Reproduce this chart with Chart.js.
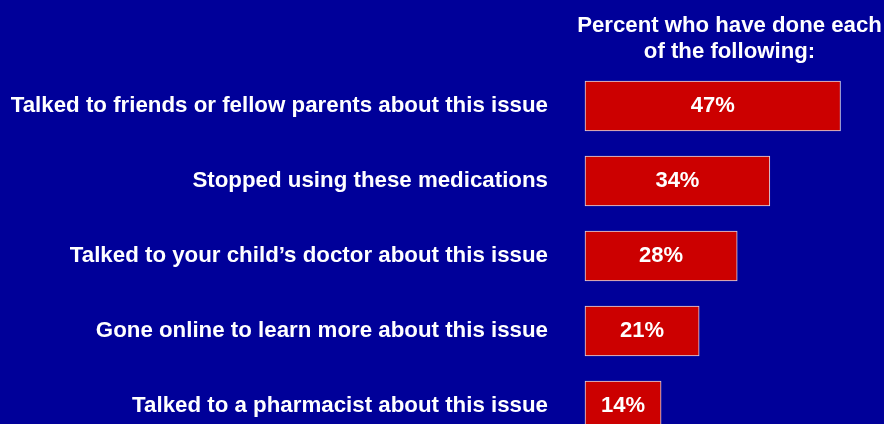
<!DOCTYPE html>
<html>
<head>
<meta charset="utf-8">
<script src="https://cdn.jsdelivr.net/npm/chart.js@4/dist/chart.umd.min.js"></script>
<style>
  html, body { margin: 0; padding: 0; background: #000099; overflow: hidden; }
  canvas { display: block; }
</style>
</head>
<body>
<canvas id="chart" width="884" height="424"></canvas>
<script>
// chart data
const categories = [
    "Talked to friends or fellow parents about this issue",
    "Stopped using these medications",
    "Talked to your child\u2019s doctor about this issue",
    "Gone online to learn more about this issue",
    "Talked to a pharmacist about this issue"
];
const percentDone = [47, 34, 28, 21, 14];
const headerLines = ["Percent who have done each", "of the following:"];

const FONT = "'Liberation Sans', Arial, sans-serif";

// header text above the bars
const headerPlugin = {
    id: "header",
    afterDraw(chart) {
        const ctx = chart.ctx;
        ctx.save();
        ctx.fillStyle = "#ffffff";
        ctx.font = "bold 22.2px " + FONT;
        ctx.textAlign = "center";
        ctx.textBaseline = "middle";
        headerLines.forEach((line, i) => ctx.fillText(line, 729.5, 26 + i * 26));
        ctx.restore();
    }
};

// value labels inside the bars
const valueLabels = {
    id: "valueLabels",
    afterDatasetsDraw(chart) {
        const ctx = chart.ctx;
        const meta = chart.getDatasetMeta(0);
        ctx.save();
        ctx.fillStyle = "#ffffff";
        ctx.font = "bold 22px " + FONT;
        ctx.textAlign = "center";
        ctx.textBaseline = "middle";
        meta.data.forEach((bar, i) => {
            const cx = (bar.x + bar.base) / 2;
            ctx.fillText(percentDone[i] + "%", cx, bar.y);
        });
        ctx.restore();
    }
};

new Chart(document.getElementById("chart"), {
    type: "bar",
    data: {
        labels: categories,
        datasets: [{
            data: percentDone,
            backgroundColor: "#cc0000",
            borderColor: "#d8d8e8",
            borderWidth: 1,
            borderSkipped: false,
            barThickness: 50,
            clip: false
        }]
    },
    options: {
        indexAxis: "y",
        responsive: false,
        animation: false,
        layout: { padding: { top: 106, right: 0, bottom: 18, left: 0 } },
        plugins: {
            legend: { display: false },
            tooltip: { enabled: false }
        },
        scales: {
            x: {
                display: false,
                min: 0,
                max: 55
            },
            y: {
                offset: false,
                grid: { display: false, drawTicks: false },
                border: { display: false },
                // fixed label column; drop the extra padding chart.js reserves for long labels
                afterFit(scale) {
                    scale.width = 585;
                    scale.paddingTop = 0;
                    scale.paddingBottom = 0;
                },
                ticks: {
                    color: "#ffffff",
                    padding: 37,
                    font: { family: FONT, size: 22.3, weight: "bold" }
                }
            }
        }
    },
    plugins: [headerPlugin, valueLabels]
});
</script>
</body>
</html>
